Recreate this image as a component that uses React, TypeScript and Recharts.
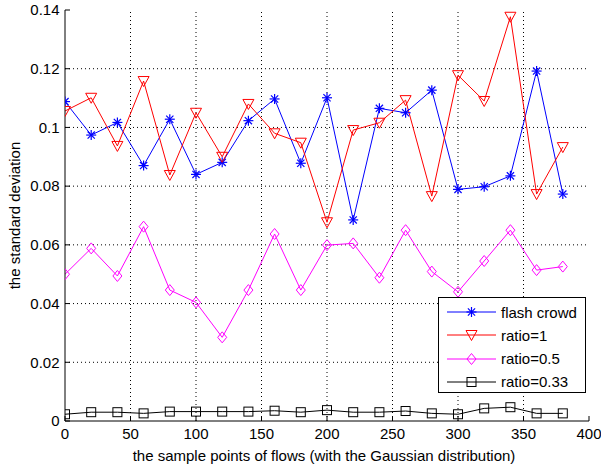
import React from 'react';
import { LineChart, Line, XAxis, YAxis, ReferenceLine } from 'recharts';

const samplePoints = [0, 20, 40, 60, 80, 100, 120, 140, 160, 180, 200, 220, 240, 260, 280, 300, 320, 340, 360, 380];
const flashCrowd = [0.1088, 0.0974, 0.1017, 0.087, 0.1028, 0.084, 0.0881, 0.1023, 0.1097, 0.0878, 0.1101, 0.0685, 0.1065, 0.105, 0.1127, 0.0789, 0.0798, 0.0835, 0.1192, 0.0773];
const ratio1 = [0.1056, 0.1101, 0.0937, 0.1158, 0.0838, 0.105, 0.09, 0.108, 0.098, 0.0948, 0.0677, 0.0991, 0.1016, 0.1093, 0.0766, 0.1178, 0.109, 0.1377, 0.0773, 0.0933];
const ratio05 = [0.05, 0.0588, 0.0494, 0.0662, 0.0446, 0.0404, 0.0285, 0.0446, 0.0637, 0.0446, 0.0599, 0.0605, 0.0488, 0.065, 0.0509, 0.044, 0.0545, 0.065, 0.0514, 0.0526];
const ratio033 = [0.0023, 0.003, 0.003, 0.0026, 0.0032, 0.0032, 0.0032, 0.0032, 0.0035, 0.003, 0.0037, 0.003, 0.003, 0.0034, 0.0026, 0.0023, 0.0043, 0.0047, 0.0026, 0.0026];

const xTicks = [0, 50, 100, 150, 200, 250, 300, 350, 400];
const yTicks = [0, 0.02, 0.04, 0.06, 0.08, 0.1, 0.12, 0.14];
const xGrid = [50, 100, 150, 200, 250, 300, 350];
const yGrid = [0.02, 0.04, 0.06, 0.08, 0.1, 0.12];

const data = samplePoints.map((x, i) => ({
  x,
  flash: flashCrowd[i],
  r1: ratio1[i],
  r05: ratio05[i],
  r033: ratio033[i],
}));

type Shape = 'star' | 'tri' | 'diamond' | 'square';

const series: { key: string; name: string; color: string; shape: Shape }[] = [
  { key: 'flash', name: 'flash crowd', color: '#0000ff', shape: 'star' },
  { key: 'r1', name: 'ratio=1', color: '#ff0000', shape: 'tri' },
  { key: 'r05', name: 'ratio=0.5', color: '#ff00ff', shape: 'diamond' },
  { key: 'r033', name: 'ratio=0.33', color: '#000000', shape: 'square' },
];

const FONT = '"Liberation Sans", Arial, Helvetica, sans-serif';

function MarkerShape({ cx, cy, color, shape }: { cx: number; cy: number; color: string; shape: Shape }) {
  if (shape === 'star') {
    const r = 5;
    const d = 3.6;
    return (
      <g stroke={color} strokeWidth={1.2} fill="none">
        <line x1={cx - r} y1={cy} x2={cx + r} y2={cy} />
        <line x1={cx} y1={cy - r} x2={cx} y2={cy + r} />
        <line x1={cx - d} y1={cy - d} x2={cx + d} y2={cy + d} />
        <line x1={cx - d} y1={cy + d} x2={cx + d} y2={cy - d} />
      </g>
    );
  }
  if (shape === 'tri') {
    const pts = `${cx - 5.5},${cy - 4.5} ${cx + 5.5},${cy - 4.5} ${cx},${cy + 5.5}`;
    return <polygon points={pts} stroke={color} strokeWidth={1} fill="none" />;
  }
  if (shape === 'diamond') {
    const pts = `${cx},${cy - 5.5} ${cx + 4.5},${cy} ${cx},${cy + 5.5} ${cx - 4.5},${cy}`;
    return <polygon points={pts} stroke={color} strokeWidth={1} fill="none" />;
  }
  return <rect x={cx - 4.5} y={cy - 4.5} width={9} height={9} stroke={color} strokeWidth={1} fill="none" />;
}

function makeDot(color: string, shape: Shape) {
  return (props: any) => {
    const { cx, cy, index } = props;
    if (cx == null || cy == null) return <g key={index} />;
    return (
      <g key={`d-${index}`}>
        <MarkerShape cx={cx} cy={cy} color={color} shape={shape} />
      </g>
    );
  };
}

function LegendBox() {
  return (
    <div
      style={{
        position: 'absolute',
        left: 438,
        top: 297,
        width: 148,
        height: 96,
        boxSizing: 'border-box',
        border: '1px solid #000',
        background: '#fff',
        fontFamily: FONT,
        fontSize: 15,
        color: '#000',
      }}
    >
      {series.map((s, i) => (
        <div
          key={s.key}
          style={{ position: 'absolute', left: 0, top: 3 + i * 23.3, height: 22, display: 'flex', alignItems: 'center' }}
        >
          <svg width={60} height={22} style={{ display: 'block' }}>
            <line x1={8} y1={11} x2={57} y2={11} stroke={s.color} strokeWidth={1} />
            <MarkerShape cx={32.5} cy={11} color={s.color} shape={s.shape} />
          </svg>
          <span style={{ marginLeft: 2, whiteSpace: 'nowrap' }}>{s.name}</span>
        </div>
      ))}
    </div>
  );
}

export default function App() {
  return (
    <div style={{ position: 'absolute', left: 0, top: 0, width: 601, height: 471, background: '#fff' }}>
      <LineChart
        width={601}
        height={471}
        data={data}
        margin={{ top: 10, right: 12, bottom: 0, left: 0 }}
        style={{ fontFamily: FONT }}
      >
        <XAxis
          xAxisId="bottom"
          dataKey="x"
          type="number"
          domain={[0, 400]}
          ticks={xTicks}
          height={50}
          stroke="#000"
          tickSize={-5}
          tickMargin={12.6}
          tick={{ fill: '#000', fontSize: 15, fontFamily: FONT }}
          axisLine={{ stroke: '#000' }}
          tickLine={{ stroke: '#000' }}
          allowDataOverflow
          label={{
            content: (p: any) => {
              const vb = p.viewBox || {};
              const cx = (vb.x ?? 65) + (vb.width ?? 524) / 2;
              return (
                <text x={cx - 3} y={461} textAnchor="middle" fontSize={15} fontFamily={FONT} fill="#000">
                  the sample points of flows (with the Gaussian distribution)
                </text>
              );
            },
          }}
        />
        <XAxis
          xAxisId="top"
          dataKey="x"
          type="number"
          orientation="top"
          domain={[0, 400]}
          ticks={xTicks}
          height={0}
          mirror
          tickSize={5}
          tickFormatter={() => ''}
          axisLine={{ stroke: '#000' }}
          tickLine={{ stroke: '#000' }}
        />
        <YAxis
          yAxisId="left"
          type="number"
          domain={[0, 0.14]}
          ticks={yTicks}
          width={65}
          tickSize={-5}
          tickMargin={10.5}
          tickFormatter={(v: number) => String(v)}
          tick={{ fill: '#000', fontSize: 15, fontFamily: FONT }}
          axisLine={{ stroke: '#000' }}
          tickLine={{ stroke: '#000' }}
          allowDataOverflow
          label={{
            content: (p: any) => {
              const vb = p.viewBox || {};
              const cy = (vb.y ?? 10) + (vb.height ?? 411) / 2;
              return (
                <text
                  x={14}
                  y={cy}
                  transform={`rotate(-90 14 ${cy})`}
                  textAnchor="middle"
                  dominantBaseline="central"
                  fontSize={15}
                  fontFamily={FONT}
                  fill="#000"
                >
                  the standard deviation
                </text>
              );
            },
          }}
        />
        <YAxis
          yAxisId="right"
          type="number"
          orientation="right"
          domain={[0, 0.14]}
          ticks={yTicks}
          width={0}
          mirror
          tickSize={5}
          tickFormatter={() => ''}
          axisLine={{ stroke: '#000' }}
          tickLine={{ stroke: '#000' }}
        />
        {xGrid.map((v) => (
          <ReferenceLine
            key={`gx-${v}`}
            x={v}
            xAxisId="bottom"
            yAxisId="left"
            stroke="#000"
            strokeDasharray="1 3"
            strokeWidth={1}
          />
        ))}
        {yGrid.map((v) => (
          <ReferenceLine
            key={`gy-${v}`}
            y={v}
            xAxisId="bottom"
            yAxisId="left"
            stroke="#000"
            strokeDasharray="1 3"
            strokeWidth={1}
          />
        ))}
        {series.map((s) => (
          <Line
            key={s.key}
            xAxisId="bottom"
            yAxisId="left"
            type="linear"
            dataKey={s.key}
            name={s.name}
            stroke={s.color}
            strokeWidth={1}
            dot={makeDot(s.color, s.shape)}
            activeDot={false}
            isAnimationActive={false}
          />
        ))}
      </LineChart>
      <LegendBox />
    </div>
  );
}
